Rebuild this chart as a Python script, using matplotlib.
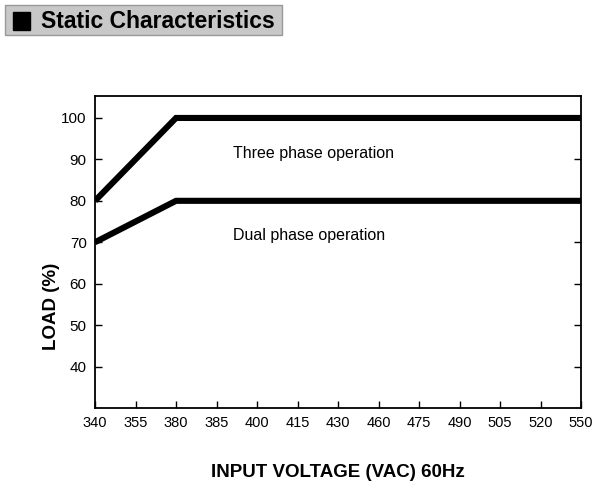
import matplotlib.pyplot as plt
from matplotlib.patches import Rectangle

# -----------------------------------
# Data
# -----------------------------------
voltage_ticks = ["340", "355", "380", "385", "400", "415", "430",
                 "460", "475", "490", "505", "520", "550"]
three_phase_x = ["340", "380", "550"]
three_phase_load = [80, 100, 100]
dual_phase_x = ["340", "380", "550"]
dual_phase_load = [70, 80, 80]
load_ticks = [40, 50, 60, 70, 80, 90, 100]

font = ["Liberation Sans Narrow", "Liberation Sans", "DejaVu Sans"]
plt.rcParams["font.family"] = font

# -----------------------------------
# Figure
# -----------------------------------
fig = plt.figure(figsize=(6.14, 4.98), dpi=100)
ax = fig.add_axes([95 / 614, 90 / 498, 486 / 614, 312 / 498])

pos = {v: i for i, v in enumerate(voltage_ticks)}
ax.plot([pos[v] for v in three_phase_x], three_phase_load,
        color="black", lw=4.4, solid_capstyle="butt", solid_joinstyle="miter")
ax.plot([pos[v] for v in dual_phase_x], dual_phase_load,
        color="black", lw=4.4, solid_capstyle="butt", solid_joinstyle="miter")

ax.set_xlim(0, len(voltage_ticks) - 1)
ax.set_ylim(30, 105.3)
ax.set_xticks(range(len(voltage_ticks)))
ax.set_xticklabels(voltage_ticks)
ax.set_yticks(load_ticks)

ax.tick_params(axis="x", direction="in", length=5, width=1, labelsize=10.5, pad=6)
ax.tick_params(axis="y", direction="in", length=5, width=1, labelsize=11,
               right=True, pad=6)
for s in ax.spines.values():
    s.set_linewidth(1.3)

ax.text(pos["380"] + 1.4, 91.5, "Three phase operation", fontsize=11.5, va="center")
ax.text(pos["380"] + 1.4, 71.7, "Dual phase operation", fontsize=11.5, va="center")

ax.set_xlabel("INPUT VOLTAGE (VAC) 60Hz", fontsize=13.5, fontweight="bold",
              labelpad=24)
ax.set_ylabel("LOAD (%)", fontsize=13.5, fontweight="bold", labelpad=1,
              y=0.325)

# -----------------------------------
# Header box
# -----------------------------------
fig.patches.append(Rectangle((5 / 614, 1 - 35 / 498), 277 / 614, 30 / 498,
                             transform=fig.transFigure, facecolor="#c8c8c8",
                             edgecolor="#999999", lw=1))
fig.patches.append(Rectangle((13 / 614, 1 - 30 / 498), 17 / 614, 18 / 498,
                             transform=fig.transFigure, facecolor="black",
                             edgecolor="black"))
fig.text(41 / 614, 1 - 21 / 498, "Static Characteristics", fontsize=16.5,
         fontweight="bold", va="center", ha="left")

fig.savefig("out.png", dpi=100)
